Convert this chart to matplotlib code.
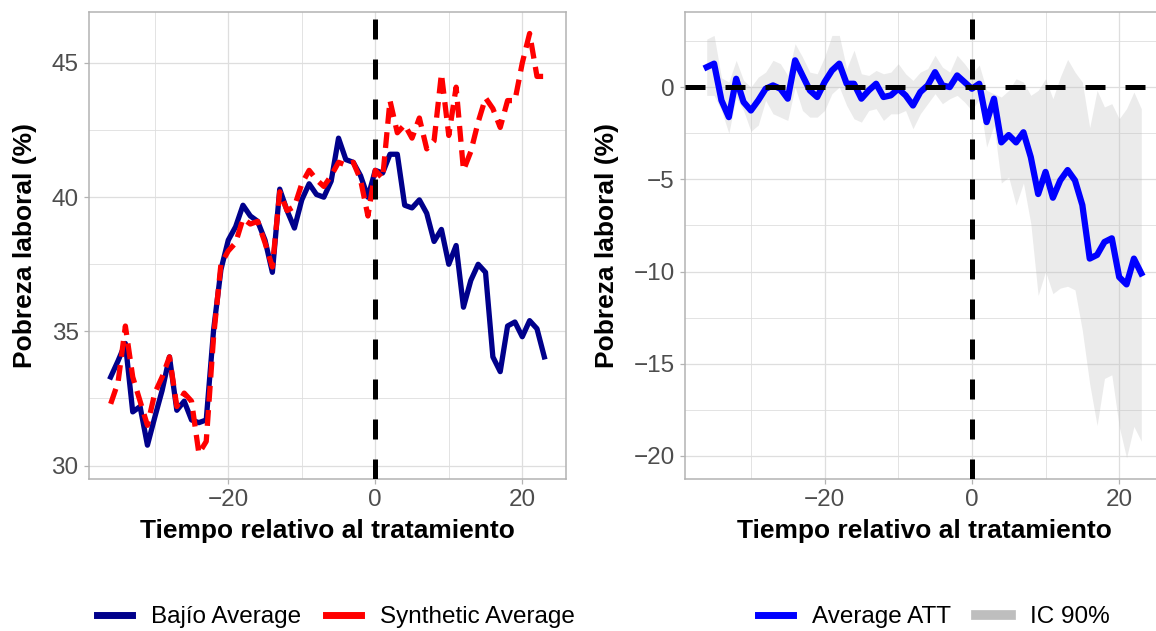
import matplotlib
matplotlib.use("Agg")
import matplotlib.pyplot as plt
from matplotlib.lines import Line2D
import numpy as np

plt.rcParams["font.family"] = ["Liberation Sans", "DejaVu Sans"]

# relative time to treatment
t = np.arange(-36, 24)

bajio = [33.3, 33.9, 34.55, 32.0, 32.2, 30.76, 31.8, 32.8, 34.05, 32.06,
         32.4, 31.7, 31.6, 31.7, 35.05, 37.3, 38.4, 38.9, 39.7, 39.3,
         39.1, 38.4, 37.2, 40.3, 39.5, 38.85, 39.9, 40.5, 40.1, 40.0,
         40.6, 42.2, 41.4, 41.3, 40.8, 40.0, 41.0, 40.9, 41.6, 41.6,
         39.7, 39.6, 39.9, 39.4, 38.35, 38.8, 37.5, 38.2, 35.9, 36.9,
         37.5, 37.2, 34.05, 33.5, 35.2, 35.35, 34.8, 35.4, 35.1, 34.05]

synthetic = [32.3, 33.1, 35.2, 33.3, 32.4, 31.5, 32.7, 33.3, 34.05, 32.2,
             32.7, 32.4, 30.45, 30.9, 34.8, 37.5, 38.0, 38.3, 39.2, 39.0,
             39.1, 38.3, 37.4, 40.2, 39.5, 39.65, 40.5, 41.0, 40.65, 40.4,
             40.8, 41.3, 41.2, 41.3, 40.65, 39.3, 41.0, 40.7, 43.6, 42.4,
             42.7, 42.2, 42.95, 41.8, 42.1, 44.6, 42.3, 44.1, 41.0, 41.7,
             42.8, 43.7, 43.3, 42.6, 43.6, 43.6, 45.0, 46.1, 44.5, 44.5]

att = [1.08, 1.27, -0.72, -1.63, 0.45, -0.81, -1.27, -0.72, -0.09, 0.09,
       -0.09, -0.63, 1.45, 0.63, -0.18, -0.54, 0.27, 0.9, 1.27, 0.18,
       0.18, -0.63, -0.18, 0.18, -0.54, -0.45, -0.09, -0.45, -1.0, -0.27,
       0.09, 0.81, 0.09, 0.0, 0.63, 0.27, -0.09, 0.18, -1.9, -0.63,
       -3.0, -2.6, -3.0, -2.45, -3.8, -5.8, -4.6, -6.0, -5.06, -4.5,
       -5.06, -6.4, -9.3, -9.1, -8.4, -8.2, -10.3, -10.7, -9.3, -10.1]

ic_hi = [2.6, 2.8, 0.5, 0.27, 1.45, 0.36, 0.0, 0.54, 0.81, 1.45,
         1.27, 0.63, 2.35, 1.63, 0.81, 0.72, 1.63, 2.8, 2.8, 1.0,
         2.0, 0.72, 0.63, 0.9, 0.72, 0.81, 1.27, 0.72, 0.36, 0.81,
         1.0, 1.72, 1.08, 0.81, 1.72, 1.27, 0.72, 1.2, -0.18, -0.36,
         -0.54, -0.18, 0.45, 0.27, -0.45, -0.18, 0.45, -0.63, 0.54, 1.5,
         0.81, 0.27, -2.2, -0.18, -1.08, -0.9, -1.72, -1.17, -0.27, -1.17]

ic_lo = [-0.45, -0.45, -1.27, -2.5, -0.54, -1.27, -2.4, -2.06, -0.72, -1.45,
         -1.63, -1.81, 0.0, -1.27, -1.63, -1.63, -1.27, -0.36, 0.0, -1.0,
         -1.72, -1.9, -1.27, -1.17, -1.81, -1.45, -1.45, -1.27, -2.26, -1.45,
         -0.9, -0.36, -0.9, -0.63, -0.45, -0.81, -1.27, -0.63, -3.25, -2.08,
         -5.2, -4.88, -6.4, -5.2, -7.4, -11.3, -10.0, -11.2, -10.9, -10.8,
         -11.0, -13.2, -16.1, -18.35, -15.8, -15.6, -18.4, -20.1, -18.4, -19.2]

NAVY = "#00008B"
RED = "#FF0000"
BLUE = "#0000FF"
TICK_COLOR = "#4D4D4D"
BORDER = "#B3B3B3"
GRID = "#DEDEDE"


def style_axes(ax):
    ax.set_facecolor("white")
    for s in ax.spines.values():
        s.set_color(BORDER)
        s.set_linewidth(1.1)
    ax.grid(True, which="major", color=GRID, linewidth=0.9)
    ax.grid(True, which="minor", color=GRID, linewidth=0.6)
    ax.set_axisbelow(True)
    ax.tick_params(which="major", length=3.5, width=0.9, color=BORDER,
                   labelsize=17.5, labelcolor=TICK_COLOR, pad=4)
    ax.tick_params(which="minor", length=0)
    ax.set_xlim(-38.95, 25.95)
    ax.set_xticks([-20, 0, 20])
    ax.set_xticks([-30, -10, 10], minor=True)
    ax.set_xlabel("Tiempo relativo al tratamiento", fontsize=19, fontweight="bold")
    ax.set_ylabel("Pobreza laboral (%)", fontsize=19, fontweight="bold")


fig = plt.figure(figsize=(11.56, 6.31), dpi=100)
ax1 = fig.add_axes([89 / 1156, 152 / 631, 477 / 1156, 467 / 631])
ax2 = fig.add_axes([685 / 1156, 152 / 631, 478 / 1156, 467 / 631])

# left: treated vs synthetic
style_axes(ax1)
ax1.plot(t, bajio, color=NAVY, linewidth=3.8, solid_joinstyle="round", zorder=3)
ax1.plot(t, synthetic, color=RED, linewidth=3.8, dashes=(3, 1.6), zorder=3)
ax1.axvline(0, color="black", linewidth=3.6, dashes=(4, 4), zorder=4)
ax1.set_ylim(29.5, 46.9)
ax1.set_yticks([30, 35, 40, 45])
ax1.set_yticks([32.5, 37.5, 42.5], minor=True)
ax1.yaxis.set_label_coords(-0.109, 0.5)
ax1.xaxis.set_label_coords(0.5, -0.085)

# right: ATT with 90% interval
style_axes(ax2)
ax2.fill_between(t, ic_lo, ic_hi, color="#BEBEBE", alpha=0.3, linewidth=0, zorder=2)
ax2.plot(t, att, color=BLUE, linewidth=4.5, solid_joinstyle="round", zorder=3)
ax2.axhline(0, color="black", linewidth=3.6, dashes=(4, 4), zorder=4)
ax2.axvline(0, color="black", linewidth=3.6, dashes=(4, 4), zorder=4)
ax2.set_ylim(-21.25, 4.07)
ax2.set_yticks([-20, -15, -10, -5, 0])
ax2.set_yticks([-17.5, -12.5, -7.5, -2.5, 2.5], minor=True)
ax2.yaxis.set_label_coords(-0.138, 0.5)
ax2.xaxis.set_label_coords(0.5, -0.085)

leg_kw = dict(loc="center", ncol=2, frameon=False, fontsize=17.5,
              handlelength=1.45, handletextpad=0.8, columnspacing=1.0,
              bbox_transform=fig.transFigure)

h1 = [Line2D([], [], color=NAVY, linewidth=5),
      Line2D([], [], color=RED, linewidth=5)]
ax1.legend(h1, ["Bajío Average", "Synthetic Average"],
           bbox_to_anchor=(336 / 1156, 14 / 631), **leg_kw)

h2 = [Line2D([], [], color=BLUE, linewidth=5),
      Line2D([], [], color="#BEBEBE", linewidth=7)]
ax2.legend(h2, ["Average ATT", "IC 90%"],
           bbox_to_anchor=(934 / 1156, 14 / 631), **leg_kw)

fig.savefig("out.png", dpi=100)
